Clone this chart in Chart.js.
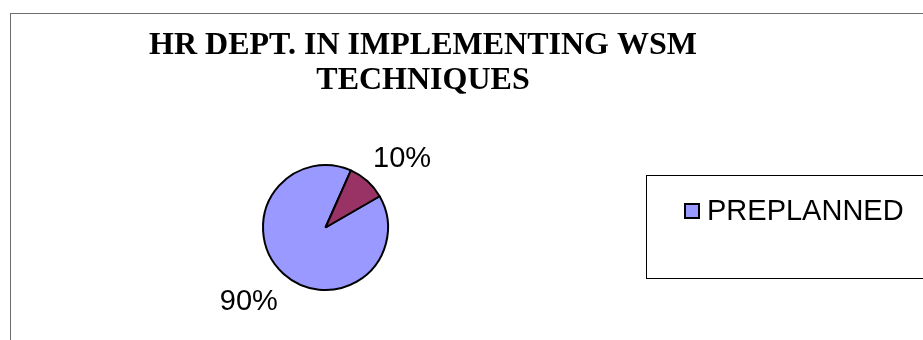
<!DOCTYPE html>
<html>
<head>
<meta charset="utf-8">
<title>HR DEPT. IN IMPLEMENTING WSM TECHNIQUES</title>
<script src="https://cdn.jsdelivr.net/npm/chart.js@4/dist/chart.umd.min.js"></script>
<style>
  html, body { margin: 0; padding: 0; background: #fff; }
  canvas { display: block; }
</style>
</head>
<body>
<canvas id="wsmChart" width="923" height="340"></canvas>
<script>
// Donnees du graphique
const titleLines = ['HR DEPT. IN IMPLEMENTING WSM', 'TECHNIQUES'];
const categories = ['PREPLANNED', ''];
const shares = [90, 10];
const sliceColors = ['#9999FF', '#993366'];

const labelFont = '29px "Liberation Sans", Arial, sans-serif';

// Cadre, titre et legende dessines a la main
const decorPlugin = {
    id: 'decor',
    beforeDraw(chart) {
        const ctx = chart.ctx;
        ctx.save();
        // cadre du graphique (coupe a droite et en bas)
        ctx.strokeStyle = '#6e6e6e';
        ctx.lineWidth = 1;
        ctx.strokeRect(10.5, 13.5, 1000, 400);

        // titre sur deux lignes
        ctx.fillStyle = '#000';
        ctx.font = 'bold 32px "Liberation Serif", "Times New Roman", serif';
        ctx.textAlign = 'center';
        ctx.textBaseline = 'alphabetic';
        titleLines.forEach((line, i) => ctx.fillText(line, 423, 54 + i * 35));
        ctx.restore();
    },
    afterDraw(chart) {
        const ctx = chart.ctx;
        ctx.save();
        // boite de legende
        ctx.strokeStyle = '#000';
        ctx.lineWidth = 1;
        ctx.strokeRect(646.5, 175.5, 400, 103);

        // une entree par categorie nommee
        const ds = chart.data.datasets[0];
        let y = 211;
        chart.data.labels.forEach((lab, i) => {
            if (!lab) return;
            ctx.fillStyle = ds.backgroundColor[i];
            ctx.fillRect(684, y - 8, 16, 16);
            ctx.strokeStyle = '#000';
            ctx.lineWidth = 2;
            ctx.strokeRect(685, y - 7, 14, 14);
            ctx.fillStyle = '#000';
            ctx.font = labelFont;
            ctx.textAlign = 'left';
            ctx.textBaseline = 'middle';
            ctx.fillText(lab, 707, y + 1);
            y += 36;
        });
        ctx.restore();
    }
};

// Pourcentages places a l'exterieur de chaque part
const percentPlugin = {
    id: 'percentLabels',
    afterDatasetsDraw(chart) {
        const ctx = chart.ctx;
        const meta = chart.getDatasetMeta(0);
        const data = chart.data.datasets[0].data;
        const total = data.reduce((a, b) => a + b, 0);
        ctx.save();
        ctx.font = labelFont;
        ctx.fillStyle = '#000';
        ctx.textAlign = 'center';
        ctx.textBaseline = 'middle';
        meta.data.forEach((arc, i) => {
            const p = arc.getProps(['x', 'y', 'startAngle', 'endAngle', 'outerRadius'], true);
            const mid = (p.startAngle + p.endAngle) / 2;
            const dx = Math.cos(mid), dy = Math.sin(mid);
            const txt = Math.round(data[i] / total * 100) + '%';
            const w = ctx.measureText(txt).width;
            const d = p.outerRadius + 23;
            const x = p.x + d * dx + dx * w / 2;
            const yy = p.y + d * dy + dy * 11 + 3;
            ctx.fillText(txt, x, yy);
        });
        ctx.restore();
    }
};

new Chart(document.getElementById('wsmChart'), {
    type: 'pie',
    data: {
        labels: categories,
        datasets: [{
            data: shares,
            backgroundColor: sliceColors,
            borderColor: '#000',
            borderWidth: 2
        }]
    },
    options: {
        responsive: false,
        animation: false,
        devicePixelRatio: 1,
        rotation: 60,
        layout: {
            padding: { left: 262, right: 534, top: 164, bottom: 49 }
        },
        plugins: {
            legend: { display: false },
            title: { display: false },
            tooltip: { enabled: false }
        }
    },
    plugins: [decorPlugin, percentPlugin]
});
</script>
</body>
</html>
